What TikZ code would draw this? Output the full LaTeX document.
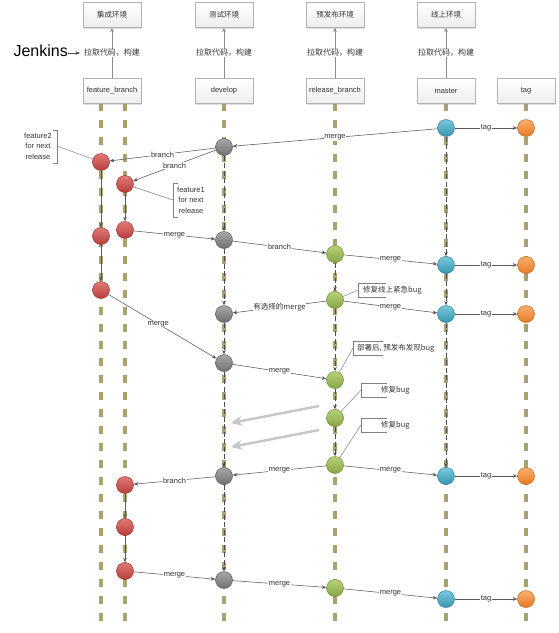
\documentclass[tikz,border=0pt]{standalone}
\usepackage{fontspec}
\setmainfont{Liberation Sans}
\newfontfamily\cjk{Noto Sans CJK SC}
\usetikzlibrary{arrows.meta,shadows}
\definecolor{lanec}{HTML}{A9A26E}
\definecolor{redA}{HTML}{E07A78}\definecolor{redB}{HTML}{B83E3C}\definecolor{redC}{HTML}{9E3533}
\definecolor{grayA}{HTML}{A8A8A8}\definecolor{grayB}{HTML}{707070}\definecolor{grayC}{HTML}{5E5E5E}
\definecolor{grnA}{HTML}{B5D27A}\definecolor{grnB}{HTML}{86A745}\definecolor{grnC}{HTML}{718F38}
\definecolor{bluA}{HTML}{7CC8DC}\definecolor{bluB}{HTML}{3596B0}\definecolor{bluC}{HTML}{2E8199}
\definecolor{orgA}{HTML}{FAB070}\definecolor{orgB}{HTML}{E57A22}\definecolor{orgC}{HTML}{C9691C}
\begin{document}
\begin{tikzpicture}[x=1pt,y=-1pt,
  box/.style={draw=gray!60, top color=white, bottom color=gray!14, minimum width=58pt, minimum height=25pt, inner sep=1pt, font=\fontsize{7.5}{9}\selectfont, text=black!80, drop shadow={opacity=0.25,shadow xshift=1pt,shadow yshift=-1pt}},
  cbox/.style={box, font=\cjk\fontsize{7.5}{9}\selectfont},
  laneline/.style={draw=lanec, line width=3.6pt, dash pattern=on 8pt off 9pt},
  cn/.style={circle, minimum size=17pt, inner sep=0pt, line width=0.5pt},
  rd/.style={cn, top color=redA, bottom color=redB, draw=redC},
  gy/.style={cn, top color=grayA, bottom color=grayB, draw=grayC},
  gn/.style={cn, top color=grnA, bottom color=grnB, draw=grnC},
  bl/.style={cn, top color=bluA, bottom color=bluB, draw=bluC},
  og/.style={cn, top color=orgA, bottom color=orgB, draw=orgC},
  conn/.style={draw=black!65, line width=0.55pt, -{Stealth[length=4.5pt,width=3.6pt]}},
  lanelink/.style={conn, draw=black!70, line width=0.8pt, dash pattern=on 5pt off 2.5pt},
  lbl/.style={font=\fontsize{7.5}{9}\selectfont, text=black!80, fill=white, inner sep=0.6pt},
  clbl/.style={lbl, font=\cjk\fontsize{7.5}{9}\selectfont},
  notel/.style={draw=black!50, line width=0.5pt},
  notet/.style={font=\fontsize{7.5}{10.5}\selectfont, text=black!80, align=center, inner sep=0pt},
  cnotet/.style={font=\cjk\fontsize{7.5}{9}\selectfont, text=black!80, inner sep=0pt, anchor=west},
  bigarrow/.style={draw=gray!45, line width=2.4pt, -{Stealth[length=11pt,width=10pt]}}
]
\useasboundingbox (0,0) rectangle (558,633);

% lanes
\foreach \x in {101,125,224,335,446,526}{\draw[laneline] (\x,103) -- (\x,623);}

% top environment boxes
\node[cbox] (envA) at (112,15) {集成环境};
\node[cbox] (envB) at (224,15) {测试环境};
\node[cbox] (envC) at (335,15) {预发布环境};
\node[cbox] (envD) at (446,15) {线上环境};
% branch boxes
\node[box] (bF) at (112,91) {feature\_branch};
\node[box] (bD) at (224,91) {develop};
\node[box] (bR) at (335,91) {release\_branch};
\node[box] (bM) at (446,91) {master};
\node[box] (bT) at (526,91) {tag};

\foreach \a/\b in {bF/envA,bD/envB,bR/envC,bM/envD}{
  \draw[conn, draw=black!45] (\a) -- node[clbl, font=\cjk\fontsize{8}{9}\selectfont] {拉取代码，构建} (\b);}
\node[font=\fontsize{16}{18}\selectfont, anchor=east, inner sep=0pt] (jk) at (68,51) {Jenkins};
\coordinate (jkend) at (80,53);
\draw[conn, draw=black!70] (jk.east |- jkend) -- (jkend);

% commits
\node[bl] (m1) at (446,128) {};
\node[og] (t1) at (526,128) {};
\node[gy] (d1) at (224,147) {};
\node[rd] (f21) at (101,162) {};
\node[rd] (f11) at (125,184) {};
\node[rd] (f12) at (125,230) {};
\node[rd] (f22) at (101,236) {};
\node[gy] (d2) at (224,240) {};
\node[gn] (r1) at (335,254) {};
\node[bl] (m2) at (446,265) {};
\node[og] (t2) at (526,265) {};
\node[rd] (f23) at (101,290) {};
\node[gn] (r2) at (335,300) {};
\node[gy] (d3) at (224,314) {};
\node[bl] (m3) at (446,314) {};
\node[og] (t3) at (526,314) {};
\node[gy] (d4) at (224,363) {};
\node[gn] (r3) at (335,380) {};
\node[gn] (r4) at (335,418) {};
\node[gn] (r5) at (335,465) {};
\node[gy] (d5) at (224,476) {};
\node[bl] (m4) at (446,476) {};
\node[og] (t4) at (526,476) {};
\node[rd] (f13) at (125,485) {};
\node[rd] (f14) at (125,527) {};
\node[rd] (f15) at (125,571) {};
\node[gy] (d6) at (224,580) {};
\node[gn] (r6) at (335,588) {};
\node[bl] (m5) at (446,599) {};
\node[og] (t5) at (526,599) {};

% lane links
\foreach \a/\b in {f21/f22,f22/f23,f11/f12,f13/f14,f14/f15}{\draw[conn] (\a) -- (\b);}
\foreach \a/\b in {d1/d2,d2/d3,d3/d4,d4/d5,d5/d6,r1/r2,r2/r3,r3/r4,r4/r5,m1/m2,m2/m3,m3/m4}{\draw[lanelink] (\a) -- (\b);}

% cross links
\draw[conn] (m1) -- node[lbl] {merge} (d1);
\draw[conn] (d1) -- node[lbl] {branch} (f21);
\draw[conn] (d1) -- node[lbl] {branch} (f11);
\draw[conn] (f12) -- node[lbl] {merge} (d2);
\draw[conn] (d2) -- node[lbl] {branch} (r1);
\draw[conn] (r1) -- node[lbl] {merge} (m2);
\draw[conn] (r2) -- node[clbl] {有选择的merge} (d3);
\draw[conn] (r2) -- node[lbl] {merge} (m3);
\draw[conn] (f23) -- node[lbl, pos=0.46] {merge} (d4);
\draw[conn] (d4) -- node[lbl] {merge} (r3);
\draw[conn] (r5) -- node[lbl] {merge} (d5);
\draw[conn] (r5) -- node[lbl] {merge} (m4);
\draw[conn] (d5) -- node[lbl] {branch} (f13);
\draw[conn] (f15) -- node[lbl] {merge} (d6);
\draw[conn] (d6) -- node[lbl] {merge} (r6);
\draw[conn] (r6) -- node[lbl] {merge} (m5);
\foreach \a/\b in {m1/t1,m2/t2,m3/t3,m4/t4,m5/t5}{\draw[conn] (\a) -- node[lbl] {tag} (\b);}

% grey hint arrows
\coordinate (ga1) at (319,406); \coordinate (gb1) at (231,423);
\coordinate (ga2) at (319,430); \coordinate (gb2) at (231,447);
\draw[bigarrow] (ga1) -- (gb1);
\draw[bigarrow] (ga2) -- (gb2);

% notes
\node[notet] (nf2) at (38,146) {feature2\\for next\\release};
\draw[notel] (53,130) -- (57,130) -- (57,163) -- (53,163);
\coordinate (nf2b) at (57,146);
\draw[notel] (nf2b) -- (f21);

\node[notet] (nf1) at (191,200) {feature1\\for next\\release};
\draw[notel] (178,183) -- (173,183) -- (173,217) -- (178,217);
\coordinate (nf1b) at (173,200);
\draw[notel] (nf1b) -- (f11);

\node[cnotet] (n1) at (363,290) {修复线上紧急bug};
\draw[notel] (386,283) -- (358,283) -- (358,297) -- (386,297);
\coordinate (n1b) at (358,290);
\draw[notel] (n1b) -- (r2);

\node[cnotet] (n2) at (357,348) {部署后, 预发布发现bug};
\draw[notel] (383,341) -- (353,341) -- (353,355) -- (383,355);
\coordinate (n2b) at (353,348);
\draw[notel] (n2b) -- (r3);

\node[cnotet] (n3) at (381,390) {修复bug};
\draw[notel] (387,383) -- (361,383) -- (361,397) -- (387,397);
\coordinate (n3b) at (361,390);
\draw[notel] (n3b) -- (r4);

\node[cnotet] (n4) at (381,425) {修复bug};
\draw[notel] (387,418) -- (361,418) -- (361,432) -- (387,432);
\coordinate (n4b) at (361,425);
\draw[notel] (n4b) -- (r5);
\end{tikzpicture}
\end{document}
